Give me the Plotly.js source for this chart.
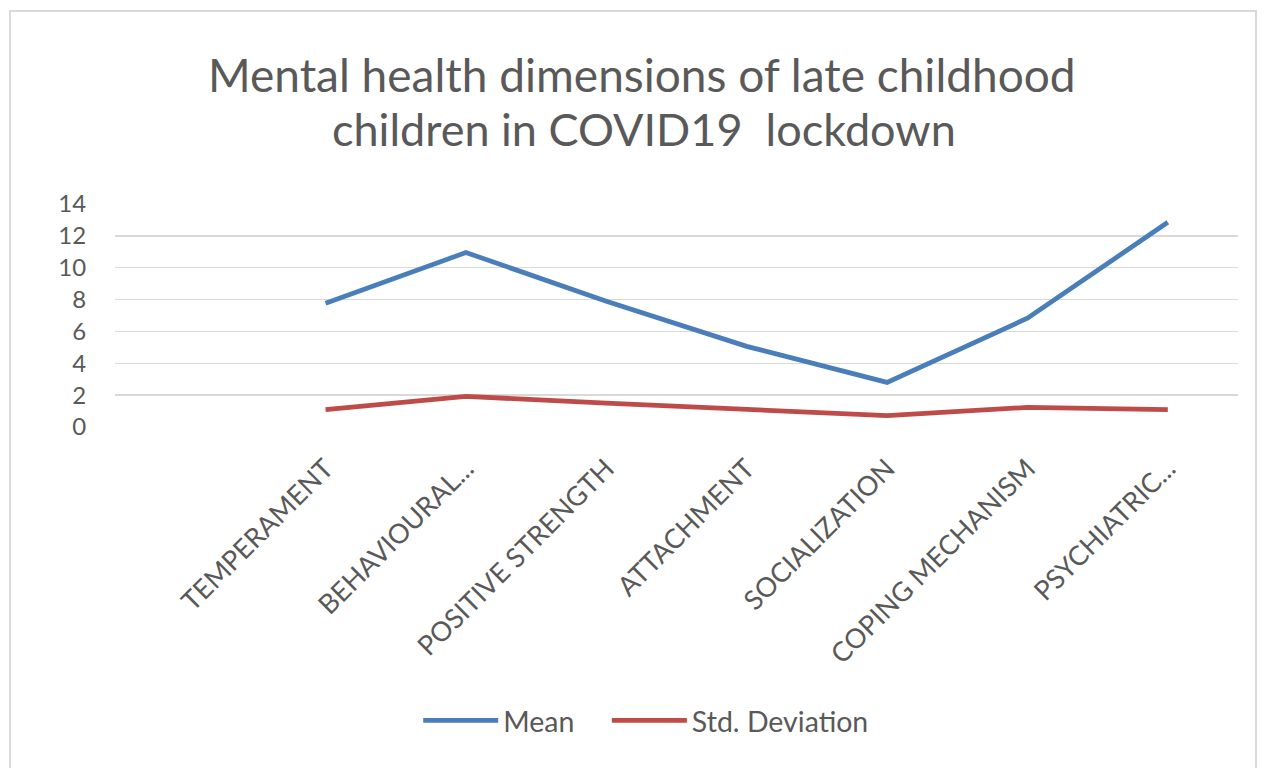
<!DOCTYPE html>
<html>
<head>
<meta charset="utf-8">
<script src="https://cdn.plot.ly/plotly-3.0.1.min.js"></script>
<style>
html,body{margin:0;padding:0;background:#fff;width:1268px;height:768px;overflow:hidden;}
#frame{position:absolute;left:9px;top:10px;width:1248px;height:790px;border:2px solid #d9d9d9;box-sizing:border-box;}
#chart{position:absolute;left:0;top:0;width:1268px;height:768px;}
</style>
</head>
<body>
<div id="frame"></div>
<div id="chart"></div>
<script>
const titleLines = ["Mental health dimensions of late childhood", "children in COVID19  lockdown"];
const categories = ["TEMPERAMENT", "BEHAVIOURAL...", "POSITIVE STRENGTH", "ATTACHMENT", "SOCIALIZATION", "COPING MECHANISM", "PSYCHIATRIC..."];
const meanValues = [7.77, 10.95, 7.9, 5.06, 2.8, 6.83, 12.85];
const stdValues = [1.09, 1.92, 1.5, 1.09, 0.71, 1.23, 1.09];
const yTicks = [0, 2, 4, 6, 8, 10, 12, 14];

const fontFam = "Lato, 'Open Sans', sans-serif";
const grey = "#595959";

const traces = [
  {x: categories, y: meanValues, name: "Mean", type: "scatter", mode: "lines",
   line: {color: "#4a7ebb", width: 4.8}, legend: "legend"},
  {x: categories, y: stdValues, name: "Std. Deviation", type: "scatter", mode: "lines",
   line: {color: "#be4b48", width: 4.8}, legend: "legend2"}
];

const legendBase = {orientation: "h", y: -1.318, yanchor: "middle", xanchor: "left",
                    font: {family: fontFam, size: 28.5, color: grey}, itemwidth: 75,
                    bgcolor: "rgba(0,0,0,0)"};

const layout = {
  width: 1268, height: 768,
  paper_bgcolor: "rgba(0,0,0,0)", plot_bgcolor: "rgba(0,0,0,0)",
  margin: {l: 115, r: 30, t: 204, b: 340.5},
  annotations: [
    {text: titleLines[0], xref: "paper", yref: "paper", x: 0.469, y: 1.58, xanchor: "center", yanchor: "middle",
     showarrow: false, font: {family: fontFam, size: 46, color: grey}},
    {text: titleLines[1], xref: "paper", yref: "paper", x: 0.471, y: 1.335, xanchor: "center", yanchor: "middle",
     showarrow: false, font: {family: fontFam, size: 45, color: grey}}
  ],
  xaxis: {type: "category", range: [-1.5, 6.5], showgrid: false, zeroline: false,
          showline: false, tickangle: -45, ticks: "outside", ticklen: 14, tickcolor: "rgba(0,0,0,0)",
          tickfont: {family: fontFam, size: 27, color: grey}, fixedrange: true},
  yaxis: {range: [0, 14], tickvals: yTicks, ticktext: yTicks.map(String),
          showgrid: true, gridcolor: "#d9d9d9", gridwidth: 1.3, zeroline: false,
          showline: false, ticks: "outside", ticklen: 23, tickcolor: "rgba(0,0,0,0)",
          tickfont: {family: fontFam, size: 24, color: grey}, fixedrange: true},
  showlegend: true,
  legend: Object.assign({}, legendBase, {x: 0.270}),
  legend2: Object.assign({}, legendBase, {x: 0.438}),
  hovermode: false
};

Plotly.newPlot("chart", traces, layout, {displayModeBar: false, staticPlot: true});
</script>
</body>
</html>
